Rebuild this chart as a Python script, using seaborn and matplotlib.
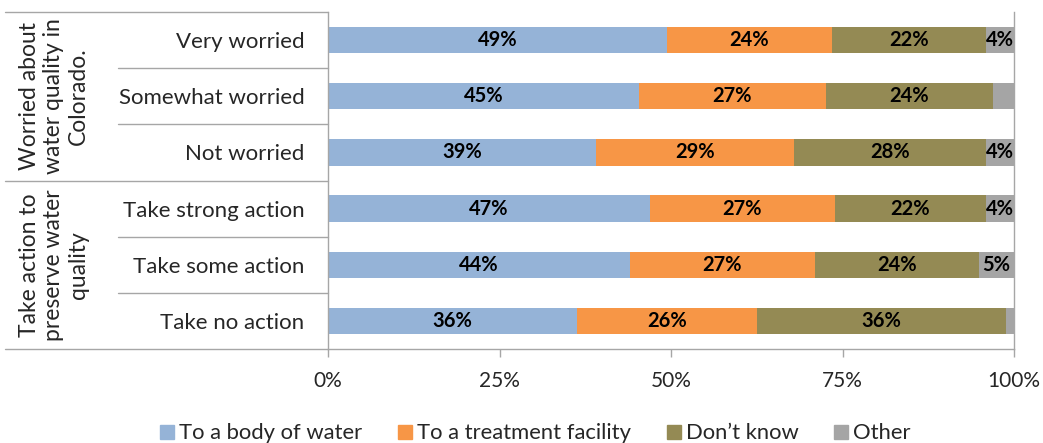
import seaborn as sns
import matplotlib.pyplot as plt
import pandas as pd
import numpy as np
from matplotlib.lines import Line2D
from matplotlib.ticker import PercentFormatter

# data (percent of respondents)
categories = ["Very worried", "Somewhat worried", "Not worried",
              "Take strong action", "Take some action", "Take no action"]
body_of_water = [49.4, 45.3, 39.1, 46.9, 44.0, 36.3]
treatment_facility = [24.1, 27.3, 28.8, 27.0, 27.0, 26.2]
dont_know = [22.4, 24.3, 28.0, 22.0, 23.9, 36.4]
other = [4.1, 3.1, 4.1, 4.1, 5.1, 1.1]

series_names = ["To a body of water", "To a treatment facility", "Don\u2019t know", "Other"]
colors = ["#95B3D7", "#F79646", "#948A54", "#A5A5A5"]
group_labels = ["Worried about\nwater quality in\nColorado.", "Take action to\npreserve water\nquality"]

sns.set_style("white")
plt.rcParams["font.family"] = ["Lato", "DejaVu Sans"]
text_color = "#262626"
line_color = "#A6A6A6"

df = pd.DataFrame({"category": categories})
values = np.array([body_of_water, treatment_facility, dont_know, other])
cum = values.cumsum(axis=0)

fig = plt.figure(figsize=(10.43, 4.43), dpi=100)
ax = fig.add_axes([328 / 1043, 1 - 349 / 443, 686 / 1043, 337 / 443])

# stacked bars: draw cumulative totals from the outside in
for i in range(3, -1, -1):
    df["v"] = cum[i]
    sns.barplot(data=df, x="v", y="category", color=colors[i], saturation=1,
                width=0.47, ax=ax, orient="h", linewidth=0)

# segment labels
for i in range(4):
    for j in range(len(categories)):
        v = values[i][j]
        if v < 3.5:
            continue
        center = cum[i][j] - v / 2
        ax.text(center, j, f"{round(v)}%", ha="center", va="center",
                fontsize=14.5, fontweight="bold", color="black")

ax.set_xlim(0, 100)
ax.set_ylim(len(categories) - 0.5, -0.5)
ax.set_xticks([0, 25, 50, 75, 100])
ax.xaxis.set_major_formatter(PercentFormatter(decimals=0))
ax.set_xlabel("")
ax.set_ylabel("")
ax.tick_params(axis="x", length=6, width=1, color=line_color, pad=10,
               labelsize=15, labelcolor=text_color, bottom=True)
ax.tick_params(axis="y", length=0, pad=17, labelsize=16, labelcolor=text_color)

for s in ["left", "bottom", "right"]:
    ax.spines[s].set_color(line_color)
    ax.spines[s].set_linewidth(1)
ax.spines["top"].set_visible(False)

# table-like grid on the left
tr = ax.get_yaxis_transform()
x_outer = (5 - 328) / 686
x_inner = (118 - 328) / 686
for b in [-0.5, 2.5, 5.5]:
    ax.plot([x_outer, 0], [b, b], color=line_color, lw=1, transform=tr, clip_on=False)
for b in [0.5, 1.5, 3.5, 4.5]:
    ax.plot([x_inner, 0], [b, b], color=line_color, lw=1, transform=tr, clip_on=False)

x_group = (54 - 328) / 686
for k, lab in enumerate(group_labels):
    ax.text(x_group, 1 + 3 * k, lab, transform=tr, rotation=90, ha="center",
            va="center", multialignment="center", fontsize=16.5, color=text_color,
            linespacing=1.2)

handles = [Line2D([], [], marker="s", linestyle="", markersize=9.5, color=c)
           for c in colors]
fig.legend(handles, series_names, loc="lower center", bbox_to_anchor=(0.513, -0.045),
           ncol=4, frameon=False, fontsize=15.8, handlelength=0.7, handletextpad=0.2,
           columnspacing=1.6, labelcolor=text_color)

fig.savefig("out.png", dpi=100)
